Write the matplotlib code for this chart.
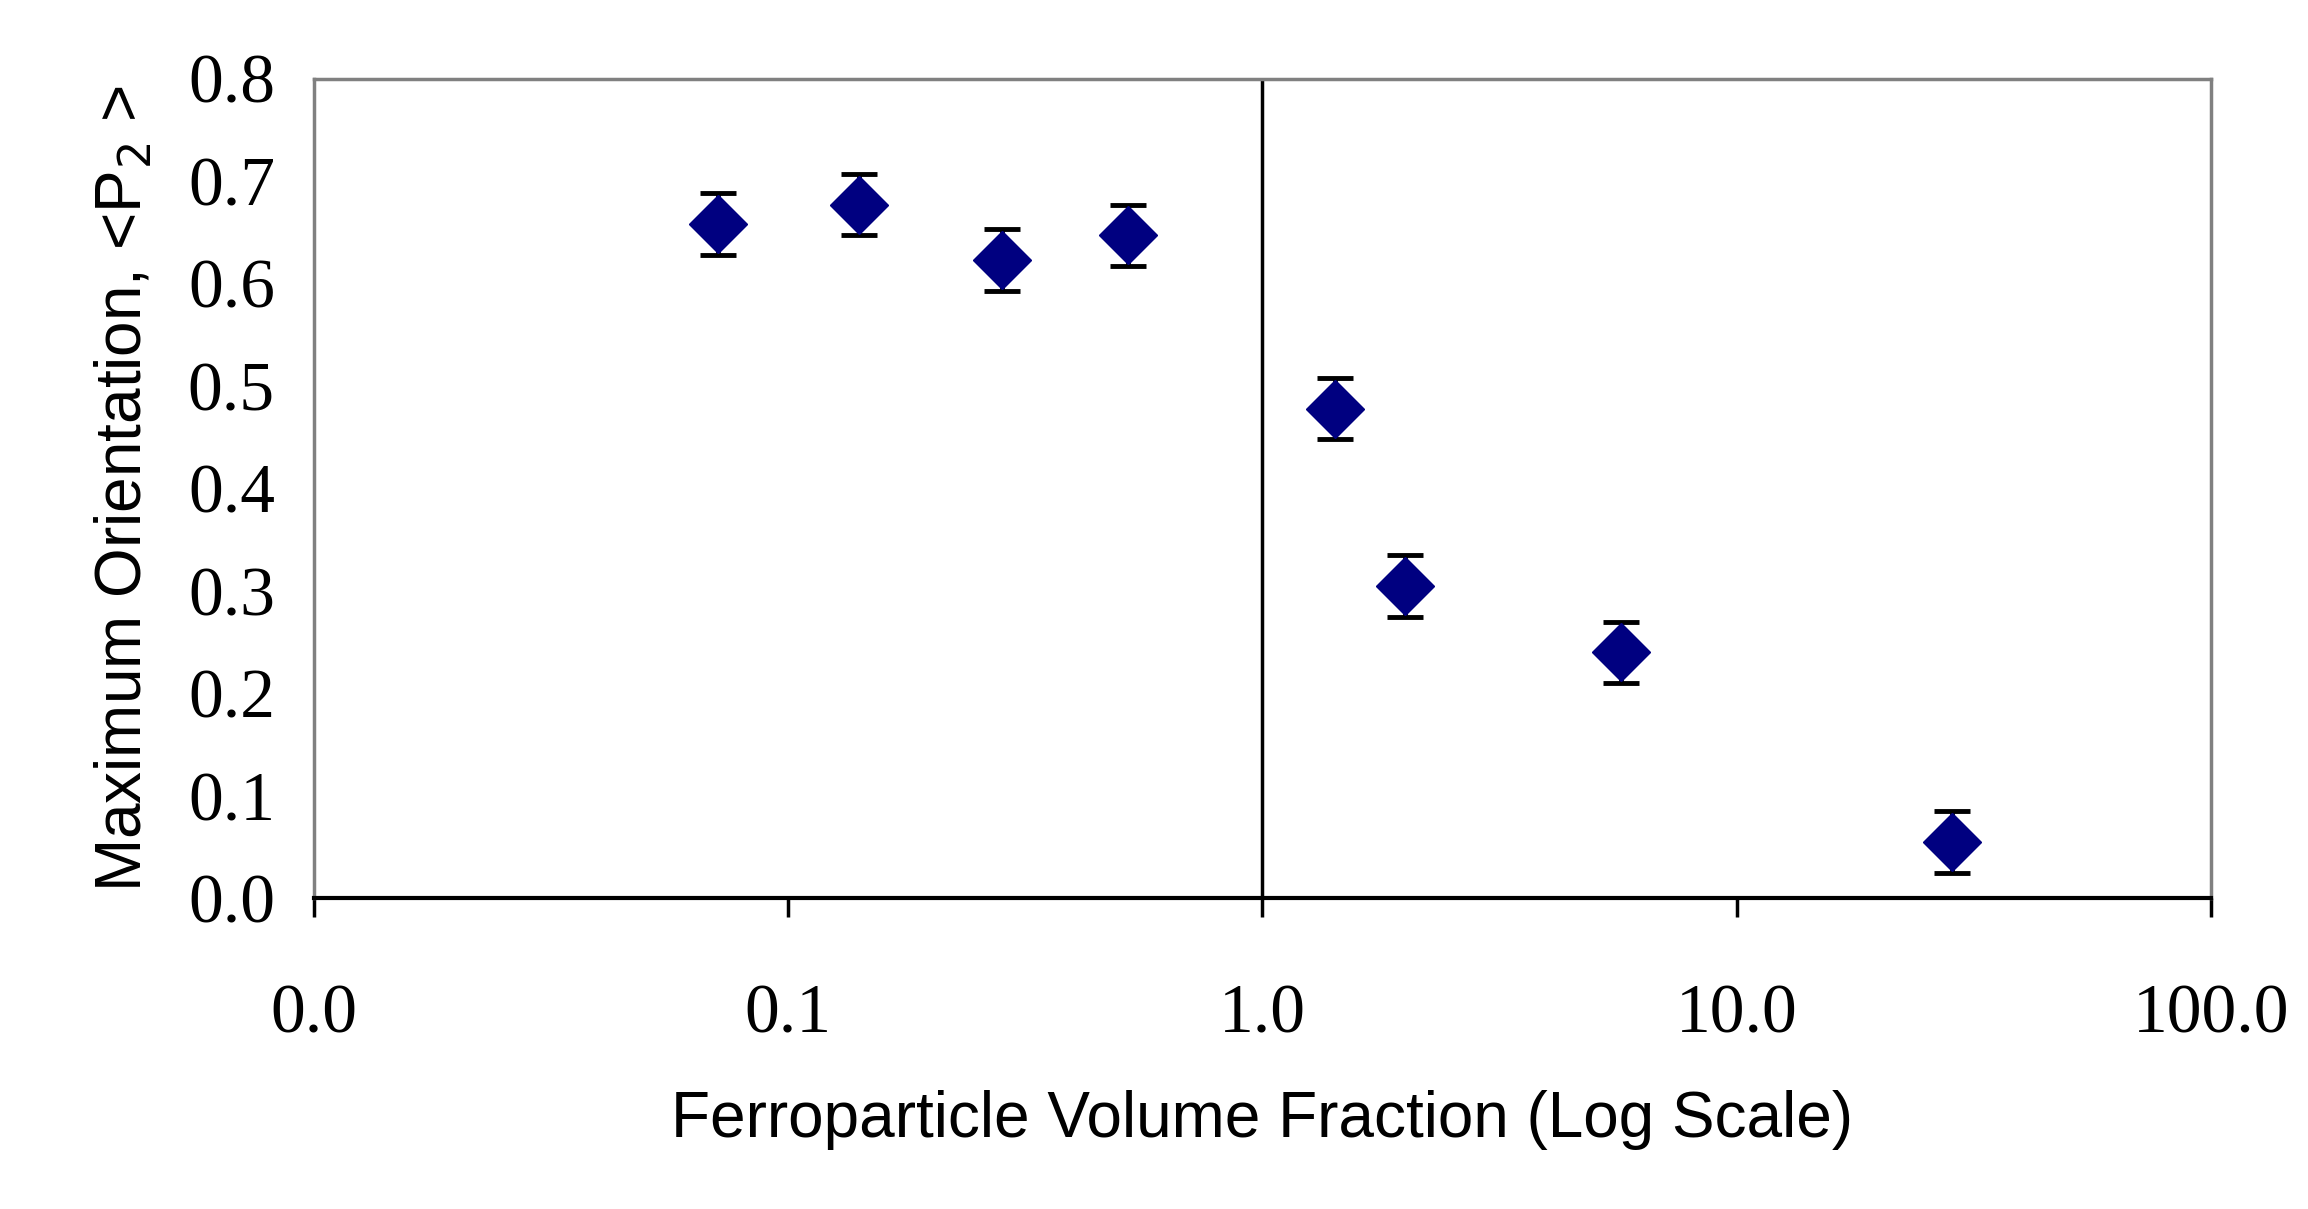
import matplotlib

matplotlib.use("Agg")
import matplotlib.pyplot as plt
from matplotlib.ticker import FixedLocator, FixedFormatter, NullLocator

volume_fraction = [0.071, 0.141, 0.282, 0.52, 1.42, 2.0, 5.7, 28.4]
max_orientation = [0.658, 0.677, 0.623, 0.647, 0.478, 0.305, 0.240, 0.055]
error = [0.03, 0.03, 0.03, 0.03, 0.03, 0.03, 0.03, 0.03]

x_ticks = [0.01, 0.1, 1, 10, 100]
x_labels = ["0.0", "0.1", "1.0", "10.0", "100.0"]
y_ticks = [0.0, 0.1, 0.2, 0.3, 0.4, 0.5, 0.6, 0.7, 0.8]

fig = plt.figure(figsize=(23.08, 12.09), dpi=100)
ax = fig.add_axes([0.136, 0.257, 0.822, 0.678])

ax.errorbar(volume_fraction, max_orientation, yerr=error, fmt="D", color="#000080",
            markersize=30, ecolor="black", elinewidth=3.5, capsize=13, capthick=3.5)

ax.set_xscale("log")
ax.set_xlim(0.01, 100)
ax.set_ylim(0, 0.8)
ax.axvline(1, color="black", linewidth=2.5)

ax.xaxis.set_major_locator(FixedLocator(x_ticks))
ax.xaxis.set_major_formatter(FixedFormatter(x_labels))
ax.xaxis.set_minor_locator(NullLocator())
ax.set_yticks(y_ticks)
ax.set_yticklabels([f"{v:.1f}" for v in y_ticks])

for label in ax.get_xticklabels() + ax.get_yticklabels():
    label.set_fontfamily("Liberation Serif")
    label.set_fontsize(50)
ax.tick_params(axis="x", direction="out", length=14, width=2.5, pad=48)
ax.tick_params(axis="y", direction="out", length=0, pad=28)

for side in ["top", "right"]:
    ax.spines[side].set_color("#808080")
    ax.spines[side].set_linewidth(2.5)
ax.spines["bottom"].set_linewidth(3)
ax.spines["left"].set_color("#808080")
ax.spines["left"].set_linewidth(2.5)

ax.set_xlabel("Ferroparticle Volume Fraction (Log Scale)", fontfamily="Liberation Sans",
              fontsize=46, labelpad=30)
ax.set_ylabel("Maximum Orientation, <P$_2$ >", fontfamily="Liberation Sans",
              fontsize=46, labelpad=24)

fig.savefig("out.png", dpi=100)
